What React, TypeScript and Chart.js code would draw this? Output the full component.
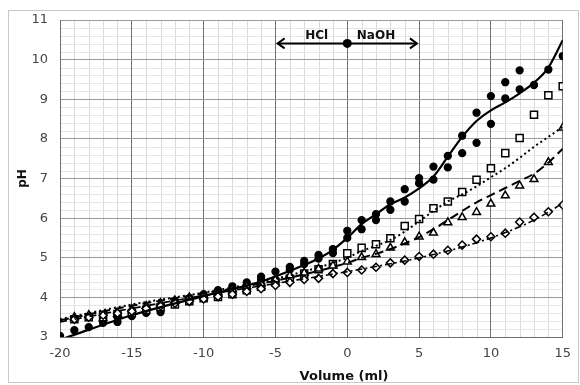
import { useEffect, useRef } from "react";
import { Chart, registerables } from "chart.js";
Chart.register(...registerables);

// ---- data ----
const circleX = [-20, -19, -18, -17, -17, -16, -16, -15, -15, -14, -14, -13, -13, -12, -12, -11, -11, -10, -10, -9, -9, -8, -8, -7, -7, -6, -6, -5, -5, -4, -4, -3, -3, -2, -2, -1, -1, 0, 0, 1, 1, 2, 2, 3, 3, 4, 4, 5, 5, 6, 6, 7, 7, 8, 8, 9, 9, 10, 10, 11, 11, 12, 12, 13, 14, 15];
const circleY = [3.03, 3.17, 3.25, 3.36, 3.45, 3.38, 3.51, 3.53, 3.58, 3.61, 3.70, 3.63, 3.75, 3.85, 3.90, 3.90, 3.98, 4.00, 4.08, 4.12, 4.18, 4.22, 4.28, 4.30, 4.38, 4.44, 4.52, 4.45, 4.65, 4.70, 4.77, 4.84, 4.92, 4.98, 5.07, 5.12, 5.22, 5.50, 5.68, 5.72, 5.95, 5.95, 6.10, 6.21, 6.42, 6.42, 6.73, 6.88, 7.01, 6.97, 7.30, 7.28, 7.57, 7.64, 8.08, 7.90, 8.66, 8.38, 9.08, 9.02, 9.43, 9.25, 9.73, 9.36, 9.75, 10.09];

const openX = [-19, -18, -17, -16, -15, -14, -13, -12, -11, -10, -9, -8, -7, -6, -5, -4, -3, -2, -1, 0, 1, 2, 3, 4, 5, 6, 7, 8, 9, 10, 11, 12, 13, 14, 15];
const squareY = [3.45, 3.50, 3.55, 3.58, 3.60, 3.68, 3.75, 3.82, 3.90, 3.98, 4.01, 4.08, 4.18, 4.27, 4.38, 4.47, 4.60, 4.71, 4.84, 5.11, 5.25, 5.34, 5.49, 5.80, 5.98, 6.25, 6.42, 6.66, 6.97, 7.26, 7.64, 8.02, 8.61, 9.10, 9.33];
const triangleY = [3.50, 3.55, 3.47, 3.58, 3.70, 3.78, 3.85, 3.92, 4.00, 4.05, 4.12, 4.20, 4.28, 4.35, 4.45, 4.55, 4.62, 4.72, 4.80, 4.90, 5.01, 5.09, 5.25, 5.39, 5.53, 5.63, 5.89, 6.02, 6.15, 6.36, 6.57, 6.82, 6.98, 7.41, 8.28];
const diamondY = [3.45, 3.50, 3.55, 3.60, 3.65, 3.72, 3.78, 3.85, 3.90, 3.96, 4.02, 4.08, 4.15, 4.22, 4.30, 4.38, 4.45, 4.48, 4.60, 4.63, 4.69, 4.76, 4.87, 4.94, 5.03, 5.09, 5.19, 5.32, 5.47, 5.53, 5.62, 5.90, 6.02, 6.16, 6.33];

// fitted curves
const fitSolidX = [-20, -15, -10, -6, -4, -2, -1, 0, 1, 2, 3, 4, 5, 6, 7, 8, 9, 10, 11, 12, 13, 14, 15];
const fitSolidY = [2.93, 3.55, 4.03, 4.40, 4.67, 4.98, 5.20, 5.50, 5.85, 6.10, 6.35, 6.52, 6.75, 7.05, 7.55, 8.05, 8.45, 8.72, 8.92, 9.15, 9.42, 9.80, 10.49];
const fitDotX = [-20, -15, -10, -5, 0, 1, 2, 3, 4, 5, 6, 7, 8, 9, 10, 11, 12, 13, 14, 15];
const fitDotY = [3.45, 3.82, 4.12, 4.47, 5.00, 5.17, 5.30, 5.45, 5.66, 5.92, 6.18, 6.42, 6.60, 6.80, 7.03, 7.26, 7.52, 7.80, 8.05, 8.30];
const fitDashX = [-20, -15, -10, -5, 0, 1, 2, 3, 4, 5, 6, 7, 8, 9, 10, 11, 12, 13, 14, 15];
const fitDashY = [3.42, 3.79, 4.10, 4.42, 4.87, 5.00, 5.10, 5.22, 5.36, 5.52, 5.72, 5.95, 6.18, 6.40, 6.58, 6.76, 6.94, 7.12, 7.40, 7.75];
const fitDashDotX = [-20, -15, -10, -5, 0, 2, 4, 6, 8, 10, 12, 13, 14, 15];
const fitDashDotY = [3.38, 3.72, 4.05, 4.35, 4.65, 4.78, 4.92, 5.08, 5.27, 5.50, 5.78, 5.95, 6.15, 6.38];

const xTickStep = 5;
const yTickStep = 1;
const xMin = -20, xMax = 15, yMin = 3, yMax = 11;

// annotation (data units)
const arrowFrom = -4.85, arrowTo = 4.85, arrowMid = 0, arrowY = 10.41;
const leftLabel = "HCl", leftLabelX = -2.13;
const rightLabel = "NaOH", rightLabelX = 2.0;
const xTitle = "Volume (ml)";
const yTitle = "pH";

const pts = (xs: number[], ys: number[]) => xs.map((x, i) => ({ x, y: ys[i] }));

const FONT = "'DejaVu Sans', Verdana, sans-serif";

export default function App() {
  const ref = useRef<HTMLCanvasElement | null>(null);
  useEffect(() => {
    document.body.style.margin = "0";
    const canvas = ref.current!;
    const decor = {
      id: "decor",
      beforeDraw(chart: any) {
        const ctx = chart.ctx;
        const a = chart.chartArea;
        const xs = chart.scales.x, ys = chart.scales.y;
        ctx.save();
        ctx.fillStyle = "#fff";
        ctx.fillRect(0, 0, chart.width, chart.height);
        ctx.strokeStyle = "#c8c8c8";
        ctx.lineWidth = 1;
        ctx.strokeRect(8.5, 10.5, 570, 372);
        // minor grid
        ctx.lineWidth = 1;
        ctx.strokeStyle = "#dadada";
        for (let v = xMin + 1; v < xMax; v++) {
          if (v % 5 === 0) continue;
          const px = Math.round(xs.getPixelForValue(v)) + 0.5;
          ctx.beginPath(); ctx.moveTo(px, a.top); ctx.lineTo(px, a.bottom); ctx.stroke();
        }
        ctx.strokeStyle = "#e6e6e6";
        for (let k = 1; k < (yMax - yMin) * 5; k++) {
          if (k % 5 === 0) continue;
          const py = Math.round(ys.getPixelForValue(yMin + k * 0.2)) + 0.5;
          ctx.beginPath(); ctx.moveTo(a.left, py); ctx.lineTo(a.right, py); ctx.stroke();
        }
        ctx.restore();
      },
      afterDraw(chart: any) {
        const ctx = chart.ctx;
        const a = chart.chartArea;
        const xs = chart.scales.x, ys = chart.scales.y;
        ctx.save();
        // axis titles
        ctx.fillStyle = "#111";
        ctx.font = `bold 13px ${FONT}`;
        ctx.textAlign = "center";
        ctx.textBaseline = "middle";
        ctx.fillText(xTitle, 344, 377);
        ctx.save();
        ctx.translate(23, (a.top + a.bottom) / 2);
        ctx.rotate(-Math.PI / 2);
        ctx.font = `bold 12px ${FONT}`;
        ctx.fillText(yTitle, 0, 0);
        ctx.restore();
        // arrow annotation
        const x1 = xs.getPixelForValue(arrowFrom);
        const x2 = xs.getPixelForValue(arrowTo);
        const xm = xs.getPixelForValue(arrowMid);
        const y = ys.getPixelForValue(arrowY);
        ctx.strokeStyle = "#000";
        ctx.lineWidth = 2;
        ctx.beginPath(); ctx.moveTo(x1, y); ctx.lineTo(x2, y); ctx.stroke();
        ctx.beginPath();
        ctx.moveTo(x1 + 7, y - 5); ctx.lineTo(x1, y); ctx.lineTo(x1 + 7, y + 5);
        ctx.moveTo(x2 - 7, y - 5); ctx.lineTo(x2, y); ctx.lineTo(x2 - 7, y + 5);
        ctx.stroke();
        ctx.fillStyle = "#000";
        ctx.beginPath(); ctx.arc(xm, y, 4.5, 0, Math.PI * 2); ctx.fill();
        ctx.font = `bold 12px ${FONT}`;
        ctx.fillStyle = "#111";
        ctx.fillText(leftLabel, xs.getPixelForValue(leftLabelX), y - 8);
        ctx.fillText(rightLabel, xs.getPixelForValue(rightLabelX), y - 8);
        ctx.restore();
      },
    };

    const lineDs = (label: string, xs: number[], ys: number[], dash: number[], width: number) => ({
      label,
      data: pts(xs, ys),
      showLine: true,
      borderColor: "#000",
      borderWidth: width,
      borderDash: dash,
      pointRadius: 0,
      cubicInterpolationMode: "monotone" as const,
      fill: false,
    });
    const markerDs = (label: string, xs: number[], ys: number[], style: string, r: number, fillc: string) => ({
      label,
      data: pts(xs, ys),
      showLine: false,
      pointStyle: style,
      pointRadius: r,
      pointBackgroundColor: fillc,
      pointBorderColor: "#000",
      pointBorderWidth: 1.5,
    });

    const chart = new Chart(canvas, {
      type: "scatter",
      data: {
        datasets: [
          lineDs("fit solid", fitSolidX, fitSolidY, [], 2.2),
          lineDs("fit dotted", fitDotX, fitDotY, [2, 3], 2),
          lineDs("fit dashed", fitDashX, fitDashY, [9, 5], 2),
          lineDs("fit dash-dot", fitDashDotX, fitDashDotY, [7, 3, 2, 3], 1.6),
          markerDs("diamonds", openX, diamondY, "rectRot", 4, "#fff"),
          markerDs("triangles", openX, triangleY, "triangle", 4.5, "#fff"),
          markerDs("squares", openX, squareY, "rect", 5, "#fff"),
          markerDs("circles", circleX, circleY, "circle", 3.4, "#000"),
        ] as any,
      },
      options: {
        animation: false,
        responsive: false,
        maintainAspectRatio: false,
        layout: { padding: { left: 0, right: 17, top: 20, bottom: 0 } },
        plugins: { legend: { display: false }, tooltip: { enabled: false } },
        scales: {
          x: {
            type: "linear",
            min: xMin,
            max: xMax,
            ticks: { stepSize: xTickStep, padding: 9, color: "#444", font: { family: FONT, size: 13 } },
            grid: { color: "#6f6f6f", drawTicks: false, lineWidth: 1 },
            border: { color: "#6f6f6f" },
            afterFit: (s: any) => { s.height = 48; },
          },
          y: {
            type: "linear",
            min: yMin,
            max: yMax,
            ticks: { stepSize: yTickStep, padding: 12, color: "#444", font: { family: FONT, size: 13 } },
            grid: { color: "#9a9a9a", drawTicks: false, lineWidth: 1 },
            border: { color: "#6f6f6f" },
            afterFit: (s: any) => { s.width = 60; },
          },
        },
      } as any,
      plugins: [decor],
    });
    return () => chart.destroy();
  }, []);
  return <canvas ref={ref} width={580} height={385} style={{ display: "block" }} />;
}
